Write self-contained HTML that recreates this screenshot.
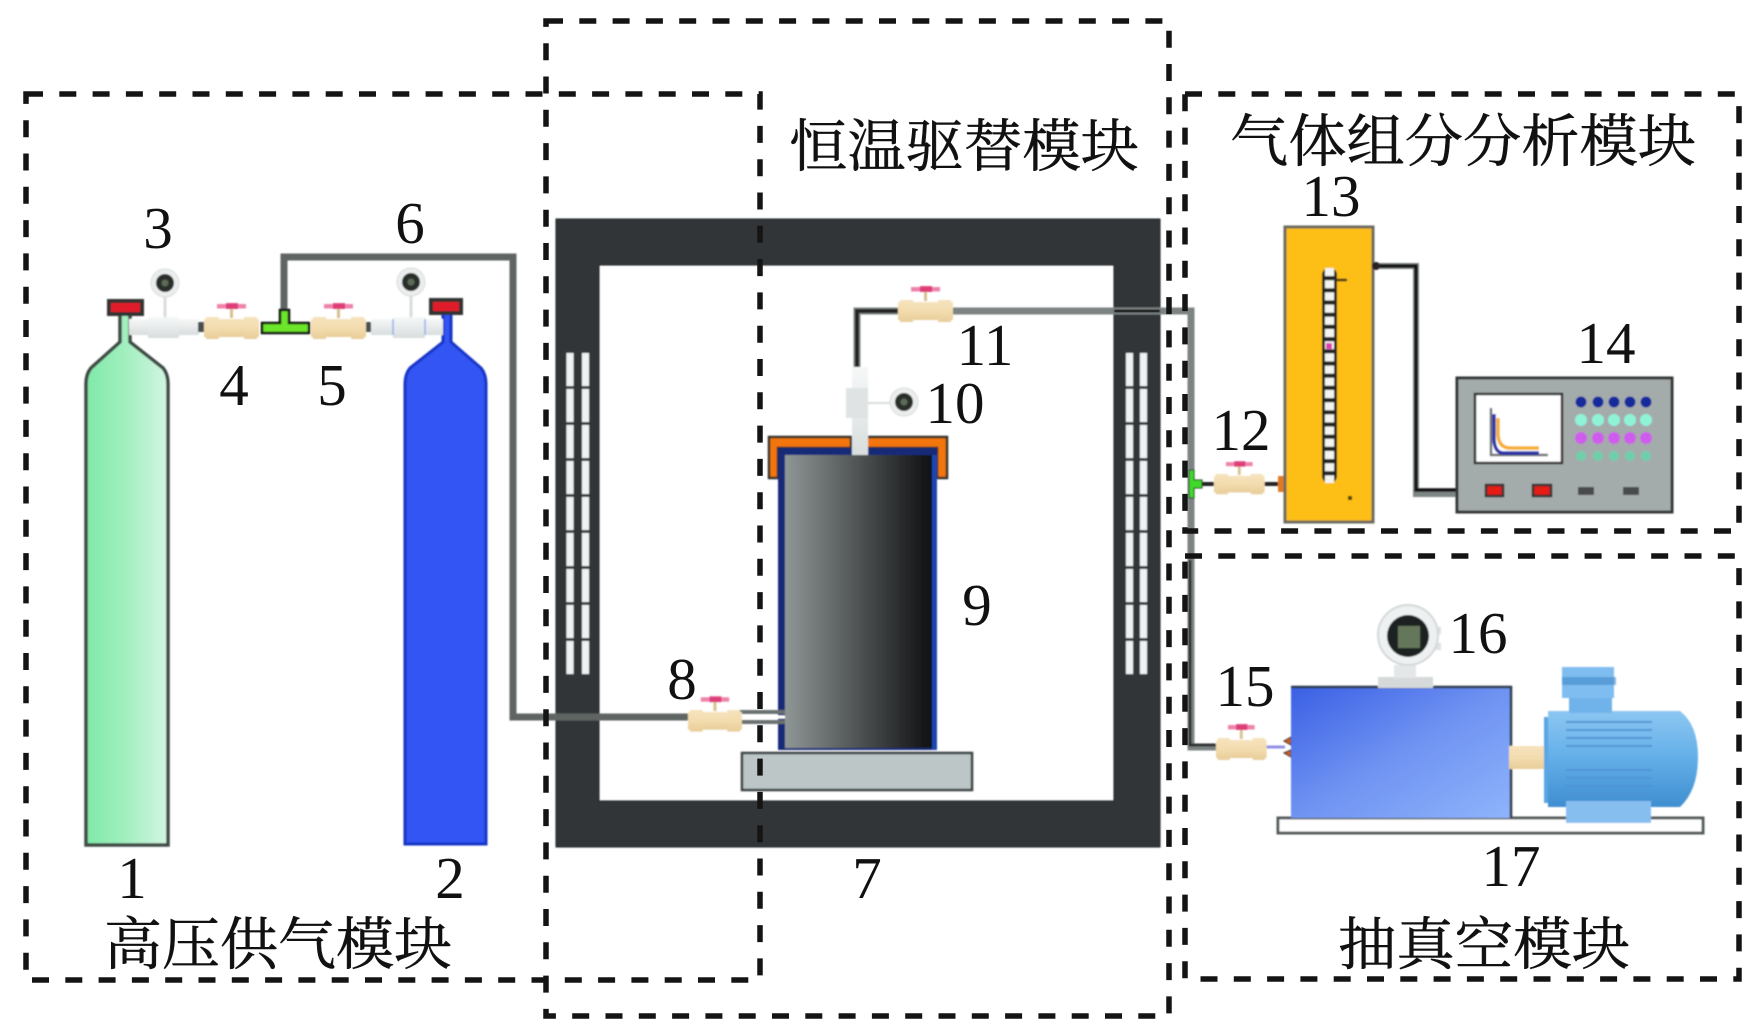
<!DOCTYPE html>
<html><head><meta charset="utf-8">
<style>
html,body{margin:0;padding:0;background:#fff}
svg{display:block}
.n{font-family:"Liberation Serif",serif;font-size:59px;fill:#111;text-anchor:middle}
.c{font-family:"Liberation Serif","Noto Serif CJK SC",serif;font-size:57px;fill:#111;stroke:#111;stroke-width:.5}
.d{fill:none;stroke:#141414;stroke-width:5.5;stroke-dasharray:17 16.3}
.p{fill:none;stroke:#5f6564;stroke-width:7}
</style></head><body>
<svg width="1760" height="1031" viewBox="0 0 1760 1031" xmlns="http://www.w3.org/2000/svg">
<defs>
<linearGradient id="tan" x1="0" y1="0" x2="0" y2="1"><stop offset="0" stop-color="#f5e3bd"/><stop offset=".5" stop-color="#f3dcae"/><stop offset="1" stop-color="#e8cd98"/></linearGradient>
<linearGradient id="g1" x1="0" y1="0" x2="1" y2="0"><stop offset="0" stop-color="#7fe9a8"/><stop offset=".5" stop-color="#a3efc0"/><stop offset="1" stop-color="#d3f5e3"/></linearGradient>
<linearGradient id="dk" x1="0" y1="0" x2="1" y2="0"><stop offset="0" stop-color="#8f9696"/><stop offset=".5" stop-color="#4f5353"/><stop offset="1" stop-color="#0f1011"/></linearGradient>
<linearGradient id="vac" x1="0" y1="0" x2="1" y2="1"><stop offset="0" stop-color="#3a5fe4"/><stop offset=".5" stop-color="#6f93f2"/><stop offset="1" stop-color="#8eb4fb"/></linearGradient>
<linearGradient id="mot" x1="0" y1="0" x2="0" y2="1"><stop offset="0" stop-color="#8cc6f2"/><stop offset=".5" stop-color="#62aee8"/><stop offset="1" stop-color="#3f8dd0"/></linearGradient>
<linearGradient id="wh" x1="0" y1="0" x2="0" y2="1"><stop offset="0" stop-color="#f6f8f8"/><stop offset="1" stop-color="#d8dddd"/></linearGradient>
<filter id="b" x="-5%" y="-5%" width="110%" height="110%"><feGaussianBlur stdDeviation=".8"/></filter>
<g id="v">
<rect x="0" y="2" width="55" height="18" fill="url(#tan)"/>
<rect x="2" y="0" width="13" height="22" fill="url(#tan)"/>
<rect x="40" y="0" width="13" height="22" fill="url(#tan)"/>
<rect x="26" y="-10" width="3" height="11" fill="#d9bf8e"/>
<rect x="13" y="-13" width="29" height="4.5" fill="#e8588e" opacity=".75"/>
<rect x="22" y="-14" width="12" height="6" fill="#d82a6c" opacity=".8"/>
</g>
<g id="gg"><circle r="14" fill="#eceeee" stroke="#d8dcdc"/><circle r="9" fill="#2a2d2c"/><circle r="3.500" fill="#5c6a58"/></g>
</defs>

<g filter="url(#b)">
<!-- cylinder 1 -->
<path d="M120 313H130V342L163 368Q168 374 168 384V845H86V384Q86 374 91 368L120 342Z" fill="url(#g1)" stroke="#3f4a44" stroke-width="3.500"/>
<rect x="109" y="301" width="33" height="13" fill="#e01f2c" stroke="#333" stroke-width="4"/>
<!-- cylinder 2 -->
<path d="M443 313H451V342L481 368Q486 374 486 384V844H405V384Q405 374 410 368L443 342Z" fill="#3355f3" stroke="#1535c8" stroke-width="3"/>
<rect x="431" y="300" width="30" height="13" fill="#e01f2c" stroke="#333" stroke-width="4"/>
<!-- oven -->
<path d="M556 219H1160V847H556ZM599 265V801H1114V265Z" fill="#333637" fill-rule="evenodd" stroke="#1f2222"/>
<g fill="none" stroke="#eef2f2" stroke-width="7" stroke-dasharray="33 3">
<line x1="570" y1="353" x2="570" y2="675"/><line x1="585.500" y1="353" x2="585.500" y2="675"/>
<line x1="1129.500" y1="353" x2="1129.500" y2="675"/><line x1="1143.500" y1="353" x2="1143.500" y2="675"/>
</g>
<!-- vessel -->
<path d="M769 437H851V448H778V478H769ZM863 437H947V478H937V448H863Z" fill="#f2760e" stroke="#33302c" stroke-width="2.500"/>
<rect x="778" y="448" width="159" height="302" fill="#122a78"/>
<rect x="932" y="455" width="5" height="295" fill="#1e45b0"/>
<rect x="785" y="455" width="147" height="293" fill="url(#dk)"/>
<rect x="742" y="753" width="230" height="37" fill="#bcc6c6" stroke="#3b3f3f" stroke-width="2.500"/>
<!-- tube 10 -->
<rect x="852" y="367" width="16" height="88" fill="url(#wh)"/>
<rect x="846" y="388" width="22" height="30" fill="#dfe3e3"/>
<line x1="868" y1="403" x2="892" y2="403" stroke="#d8dcdc" stroke-width="2"/>
<use href="#gg" x="904" y="402"/>
<path d="M857 367V311H1191V747H1216" fill="none" stroke="#7b8382" stroke-width="7"/>
<path d="M857 367V311H898" fill="none" stroke="#222" stroke-width="4"/>
<path d="M1114 311H1160" stroke="#111" stroke-width="3"/>
<path d="M1190 560V745H1216" fill="none" stroke="#2e3232" stroke-width="3"/>
<use href="#v" transform="translate(898 300)"/>
<!-- pipe 6 -->
<path class="p" d="M284 310V257H513V717H690"/>
<path d="M738 712H785M738 722H785" stroke="#6b7070" stroke-width="4" fill="none"/>
<path d="M738 717H785" stroke="#fff" stroke-width="3"/>
<use href="#v" transform="translate(688 710) scale(.98)"/>
<!-- supply line -->
<rect x="129" y="319" width="70" height="16" fill="url(#wh)"/>
<rect x="148" y="317" width="31" height="21" fill="url(#wh)"/>
<rect x="371" y="319" width="72" height="16" fill="url(#wh)"/>
<rect x="393" y="317" width="32" height="21" fill="url(#wh)"/>
<line x1="393" y1="319" x2="393" y2="335" stroke="#8fb0ee" stroke-width="1.500"/>
<line x1="425" y1="319" x2="425" y2="335" stroke="#8fb0ee" stroke-width="1.500"/>
<rect x="198" y="322" width="6" height="10" fill="#4a4f4f"/><rect x="365" y="322" width="6" height="10" fill="#4a4f4f"/>
<line x1="165" y1="296" x2="165" y2="317" stroke="#d9dddd" stroke-width="3"/>
<line x1="411" y1="295" x2="411" y2="317" stroke="#d9dddd" stroke-width="3"/>
<use href="#gg" x="165" y="283"/><use href="#gg" x="411" y="282"/>
<use href="#v" transform="translate(204 317)"/><use href="#v" transform="translate(311 317)"/>
<path d="M262 323H280V310H289V323H309V333H262Z" fill="#6ce62c" stroke="#111" stroke-width="2.500"/>
<!-- module 12 -->
<path d="M1189 470H1194V480H1202V488H1194V498H1189Z" fill="#3fd82a" stroke="#17301a"/>
<line x1="1202" y1="484" x2="1214" y2="484" stroke="#222" stroke-width="4"/>
<line x1="1264" y1="484" x2="1280" y2="484" stroke="#222" stroke-width="4"/>
<rect x="1278" y="476" width="6" height="16" fill="#e07a20"/>
<use href="#v" transform="translate(1214 474) scale(.92)"/>
<!-- 13 -->
<rect x="1285" y="227" width="88" height="295" fill="#fdbe15" stroke="#6a6a5e" stroke-width="3"/>
<rect x="1322" y="268" width="15" height="215" rx="7" fill="#222"/>
<line x1="1329.500" y1="268" x2="1329.500" y2="483" stroke="#f4f4f0" stroke-width="9" stroke-dasharray="8 4.200"/>
<rect x="1326" y="343" width="6" height="6" fill="#e23ab0"/>
<line x1="1335" y1="280" x2="1347" y2="280" stroke="#3b3318" stroke-width="2.500"/>
<rect x="1348" y="496" width="4" height="4" fill="#4a3a10"/>
<path d="M1374 266H1416V494H1456" fill="none" stroke="#7e8585" stroke-width="6"/>
<path d="M1374 266H1416V490H1456" fill="none" stroke="#111" stroke-width="3.500"/>
<circle cx="1376" cy="266" r="4" fill="#2a2420"/>
<!-- 14 -->
<rect x="1457" y="378" width="215" height="134" fill="#a4abab" stroke="#303434" stroke-width="3"/>
<rect x="1475" y="394" width="87" height="69" fill="#fff" stroke="#333" stroke-width="2.500"/>
<path d="M1491 408V455H1548" fill="none" stroke="#6b6f74" stroke-width="2.500"/>
<path d="M1494 414V440Q1495 454 1505 453H1539" fill="none" stroke="#2a30a8" stroke-width="3.500"/>
<path d="M1498 418V435Q1499 448 1510 448H1539" fill="none" stroke="#f6ad28" stroke-width="3.500"/>
<g fill="#14299c"><circle cx="1581" cy="402" r="5.500"/><circle cx="1598" cy="402" r="5.500"/><circle cx="1614" cy="402" r="5.500"/><circle cx="1630" cy="402" r="5.500"/><circle cx="1646" cy="402" r="5.500"/></g>
<g fill="#8ff3d8"><circle cx="1581" cy="420" r="6"/><circle cx="1598" cy="420" r="6"/><circle cx="1614" cy="420" r="6"/><circle cx="1630" cy="420" r="6"/><circle cx="1646" cy="420" r="6"/></g>
<g fill="#cf5cec"><circle cx="1581" cy="438" r="6"/><circle cx="1598" cy="438" r="6"/><circle cx="1614" cy="438" r="6"/><circle cx="1630" cy="438" r="6"/><circle cx="1646" cy="438" r="6"/></g>
<g fill="#6fcfab"><circle cx="1581" cy="456" r="5"/><circle cx="1598" cy="456" r="5"/><circle cx="1614" cy="456" r="5"/><circle cx="1630" cy="456" r="5"/><circle cx="1646" cy="456" r="5"/></g>
<rect x="1486" y="485" width="17" height="11" fill="#e81e14" stroke="#333" stroke-width="2.500"/>
<rect x="1533" y="485" width="18" height="11" fill="#e81e14" stroke="#333" stroke-width="2.500"/>
<rect x="1578" y="487" width="16" height="8" fill="#484c4c"/><rect x="1623" y="487" width="16" height="8" fill="#484c4c"/>
<!-- 15/vacuum -->
<line x1="1266" y1="747" x2="1285" y2="747" stroke="#8f8fe8" stroke-width="3"/>
<use href="#v" transform="translate(1216 738) scale(.92 1)"/>
<path d="M1291 737L1284 741L1291 745ZM1291 750L1284 753L1291 757Z" fill="#c8641a" stroke="#33241a"/>
<rect x="1278" y="818" width="425" height="15" fill="#fff" stroke="#555b5b" stroke-width="3"/>
<rect x="1291" y="687" width="220" height="131" fill="url(#vac)"/>
<path d="M1291 687H1511V818" fill="none" stroke="#2f3a48" stroke-width="2.500"/>
<rect x="1378" y="677" width="55" height="11" fill="#d5d9d9"/>
<rect x="1394" y="665" width="22" height="13" fill="#e4e7e7"/>
<rect x="1435" y="627" width="6" height="7" fill="#dde1e1"/><rect x="1435" y="643" width="6" height="7" fill="#dde1e1"/>
<circle cx="1408" cy="635" r="30" fill="#eef1f1" stroke="#d3d8d8" stroke-width="2"/>
<circle cx="1408" cy="636" r="21" fill="#1f2120"/>
<rect x="1398" y="626" width="22" height="22" fill="#65775a"/>
<rect x="1509" y="746" width="40" height="23" fill="url(#tan)"/>
<rect x="1544" y="717" width="10" height="86" fill="#5aa5e4"/>
<path d="M1548 711H1680Q1698 725 1698 757Q1698 790 1680 807H1548Z" fill="url(#mot)"/>
<rect x="1569" y="695" width="43" height="18" fill="#6fb3ea"/>
<rect x="1562" y="667" width="52" height="31" fill="#7fbdf0"/>
<rect x="1562" y="677" width="54" height="8" fill="#3f86c8" opacity=".6"/>
<g stroke="#4f93d4" stroke-width="2" opacity=".9"><line x1="1566" y1="722" x2="1652" y2="722"/><line x1="1566" y1="730" x2="1652" y2="730"/><line x1="1566" y1="738" x2="1652" y2="738"/><line x1="1566" y1="746" x2="1652" y2="746"/><line x1="1566" y1="770" x2="1652" y2="770"/><line x1="1566" y1="778" x2="1652" y2="778"/><line x1="1566" y1="786" x2="1652" y2="786"/><line x1="1566" y1="794" x2="1652" y2="794"/></g>
<rect x="1566" y="801" width="85" height="22" fill="#86bef0"/>
</g>

<!-- dashed module boxes -->
<rect class="d" x="26" y="94" width="734" height="886"/>
<rect class="d" x="546" y="21" width="623" height="995"/>
<rect class="d" x="1185" y="94" width="554" height="437"/>
<rect class="d" x="1185" y="556" width="554" height="423"/>

<!-- labels -->
<text class="n" x="132" y="898">1</text><text class="n" x="450" y="898">2</text>
<text class="n" x="158" y="248">3</text><text class="n" x="234" y="405">4</text>
<text class="n" x="332" y="405">5</text><text class="n" x="410" y="243">6</text>
<text class="n" x="867" y="898">7</text><text class="n" x="682" y="699">8</text>
<text class="n" x="977" y="625">9</text><text class="n" x="955" y="423">10</text>
<text class="n" x="985" y="365">11</text><text class="n" x="1241" y="450">12</text>
<text class="n" x="1331" y="216">13</text><text class="n" x="1606" y="363">14</text>
<text class="n" x="1245" y="706">15</text><text class="n" x="1478" y="653">16</text>
<text class="n" x="1511" y="886">17</text>
<text class="c" x="789" y="166" textLength="350" lengthAdjust="spacingAndGlyphs">恒温驱替模块</text>
<text class="c" x="1230" y="161" textLength="466" lengthAdjust="spacingAndGlyphs">气体组分分析模块</text>
<text class="c" x="104" y="964" textLength="348" lengthAdjust="spacingAndGlyphs">高压供气模块</text>
<text class="c" x="1338" y="964" textLength="292" lengthAdjust="spacingAndGlyphs">抽真空模块</text>
</svg>
</body></html>
